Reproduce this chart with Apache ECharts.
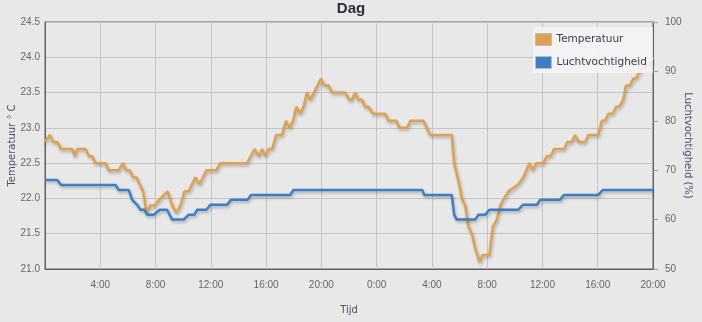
<!DOCTYPE html>
<html>
<head>
<meta charset="utf-8">
<script src="https://cdn.jsdelivr.net/npm/echarts@6/dist/echarts.min.js"></script>
<style>
html,body{margin:0;padding:0;background:#e8e8e8;}
#c{width:702px;height:322px;}
</style>
</head>
<body>
<div id="c"></div>
<script>
// Hours since start (0 = 0:00 day 1, 44 = 20:00 day 2)
var tempHours = [0.0,0.35,0.59,0.88,1.17,1.97,2.15,2.33,2.93,3.17,3.41,3.65,4.37,4.61,5.34,5.63,5.87,6.13,6.38,6.62,6.85,7.10,7.34,7.63,7.92,8.35,8.88,9.20,9.51,9.80,10.09,10.40,10.88,11.19,11.68,12.40,12.69,14.62,15.17,15.46,15.71,15.94,16.18,16.43,16.74,17.15,17.44,17.70,17.95,18.19,18.47,18.71,18.96,19.20,19.97,20.21,20.52,20.77,21.73,22.02,22.21,22.45,22.69,22.94,23.17,23.41,23.73,24.62,24.86,25.42,25.65,26.19,26.43,27.39,27.87,29.44,29.61,29.92,30.17,30.41,30.64,30.89,31.13,31.44,31.68,32.16,32.41,32.70,32.94,33.22,33.54,34.26,34.62,35.05,35.30,35.54,36.07,36.31,36.60,36.84,37.56,37.80,38.12,38.36,38.60,39.08,39.32,40.04,40.29,40.53,40.77,41.08,41.32,41.56,41.85,42.04,42.33,42.57,42.77,43.01,43.60,43.80,44.0];
var tempValues = [22.8,22.9,22.8,22.8,22.7,22.7,22.6,22.7,22.7,22.6,22.6,22.5,22.5,22.4,22.4,22.5,22.4,22.4,22.3,22.3,22.2,22.1,21.8,21.9,21.9,22.0,22.1,21.9,21.8,21.9,22.1,22.1,22.3,22.2,22.4,22.4,22.5,22.5,22.7,22.6,22.7,22.6,22.7,22.7,22.9,22.9,23.1,23.0,23.1,23.3,23.2,23.3,23.5,23.4,23.7,23.6,23.6,23.5,23.5,23.4,23.4,23.5,23.4,23.4,23.3,23.3,23.2,23.2,23.1,23.1,23.0,23.0,23.1,23.1,22.9,22.9,22.5,22.25,22.0,21.9,21.6,21.5,21.3,21.1,21.2,21.2,21.6,21.7,21.9,22.0,22.1,22.2,22.3,22.5,22.4,22.5,22.5,22.6,22.6,22.7,22.7,22.8,22.8,22.9,22.8,22.8,22.9,22.9,23.1,23.1,23.2,23.2,23.3,23.3,23.4,23.6,23.6,23.7,23.7,23.8,23.9,23.9,24.0];
var humHours = [0.0,0.88,1.17,5.10,5.34,6.06,6.31,6.67,6.91,7.19,7.39,7.87,8.30,8.84,9.20,10.04,10.40,10.81,11.01,11.68,11.97,13.17,13.46,14.66,14.91,17.75,17.97,27.30,27.45,29.44,29.61,29.80,31.13,31.37,31.86,32.16,34.26,34.58,35.59,35.83,37.27,37.56,40.04,40.36,44.0];
var humValues = [68,68,67,67,66,66,64,63,62,62,61,61,62,62,60,60,61,61,62,62,63,63,64,64,65,65,66,66,65,65,61,60,60,61,61,62,62,63,63,64,64,65,65,66,66];
var tempTicks = [21.0,21.5,22.0,22.5,23.0,23.5,24.0,24.5];
var humTicks = [50,60,70,80,90,100];

function zip(a,b){var r=[];for(var i=0;i<a.length;i++){r.push([a[i],b[i]]);}return r;}

var chart = echarts.init(document.getElementById('c'), null, {renderer:'canvas'});
var narrow = '"Liberation Sans Narrow","Liberation Sans",Arial,sans-serif';
var wide = '"DejaVu Sans",Verdana,sans-serif';
chart.setOption({
  backgroundColor:'#e8e8e8',
  animation:false,
  title:{text:'Dag',left:'center',top:-4,textStyle:{fontFamily:narrow,fontSize:15,fontWeight:'bold',color:'#2e2e3a'}},
  legend:{
    orient:'vertical',left:533,top:27,padding:[6,6,4,2],itemGap:10,itemWidth:16,itemHeight:12,
    backgroundColor:'rgba(244,244,244,0.9)',
    textStyle:{fontFamily:wide,fontSize:10.5,color:'#3a3a50'},
    data:[
      {name:'Temperatuur',icon:'rect',itemStyle:{borderColor:'#bbbbbb',borderWidth:1}},
      {name:'Luchtvochtigheid',icon:'rect',itemStyle:{borderColor:'#bbbbbb',borderWidth:1}}
    ]
  },
  grid:{left:45,right:49,top:22,bottom:53,containLabel:false,outerBoundsMode:'none',show:true,borderColor:'#606060',borderWidth:1,backgroundColor:'transparent'},
  xAxis:{
    type:'value',min:0,max:44,interval:4,
    name:'Tijd',nameLocation:'middle',nameGap:36,nameMoveOverlap:false,
    nameTextStyle:{fontFamily:wide,fontSize:10,color:'#4d4d66'},
    axisLine:{show:true,lineStyle:{color:'#606060'}},
    axisTick:{show:false},
    axisLabel:{margin:11,fontFamily:narrow,fontSize:10,color:'#666',
      formatter:function(v){return v===0?'':((v%24)+':00');}},
    splitLine:{show:true,lineStyle:{color:'#c4c4c4'}}
  },
  yAxis:[{
    type:'value',min:tempTicks[0],max:tempTicks[tempTicks.length-1],interval:0.5,
    name:'Temperatuur ° C',nameLocation:'middle',nameGap:28,nameMoveOverlap:false,
    nameTextStyle:{fontFamily:wide,fontSize:10,color:'#4d4d66'},
    axisLine:{show:true,lineStyle:{color:'#606060'}},
    axisTick:{show:false},
    axisLabel:{margin:5,fontFamily:narrow,fontSize:10,color:'#666',formatter:function(v){return v.toFixed(1);}},
    splitLine:{show:true,lineStyle:{color:'#c4c4c4'}}
  },{
    type:'value',min:humTicks[0],max:humTicks[humTicks.length-1],interval:10,position:'right',
    name:'Luchtvochtigheid (%)',nameLocation:'middle',nameGap:30,nameRotate:-90,nameMoveOverlap:false,
    nameTextStyle:{fontFamily:wide,fontSize:10,color:'#4d4d66'},
    axisLine:{show:true,lineStyle:{color:'#606060'}},
    axisTick:{show:true,length:5,lineStyle:{color:'#999'}},
    axisLabel:{margin:12,fontFamily:narrow,fontSize:10,color:'#666'},
    splitLine:{show:false}
  }],
  series:[{
    name:'Temperatuur',type:'line',yAxisIndex:0,showSymbol:false,
    data:zip(tempHours,tempValues),
    itemStyle:{color:'#dea154'},
    lineStyle:{width:2.5,color:'#dea154',shadowColor:'rgba(0,0,0,0.25)',shadowBlur:3,shadowOffsetX:1,shadowOffsetY:2}
  },{
    name:'Luchtvochtigheid',type:'line',yAxisIndex:1,showSymbol:false,
    data:zip(humHours,humValues),
    itemStyle:{color:'#3d7ec7'},
    lineStyle:{width:2.5,color:'#3d7ec7',shadowColor:'rgba(0,0,0,0.25)',shadowBlur:3,shadowOffsetX:1,shadowOffsetY:2}
  }]
});
</script>
</body>
</html>
